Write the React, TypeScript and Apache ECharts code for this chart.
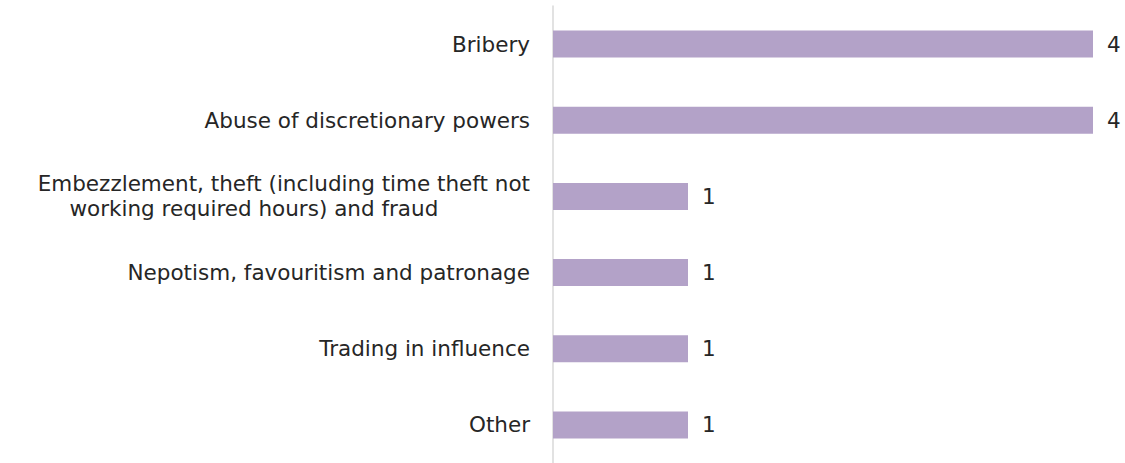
import React, { useEffect, useRef } from "react";
import * as echarts from "echarts";

const categories = [
  "Bribery",
  "Abuse of discretionary powers",
  "Embezzlement, theft (including time theft not\nworking required hours) and fraud",
  "Nepotism, favouritism and patronage",
  "Trading in influence",
  "Other",
];
const values = [4, 4, 1, 1, 1, 1];

const FONT = "DejaVu Sans";
const TEXT_COLOR = "#262626";
const FS = 21.5;

export default function App() {
  const ref = useRef<HTMLDivElement>(null);
  useEffect(() => {
    document.body.style.margin = "0";
    const chart = echarts.init(ref.current!, null, { renderer: "svg" });
    chart.setOption({
      animation: false,
      grid: { left: 553, right: 32, top: 6, height: 460, containLabel: false },
      xAxis: {
        type: "value",
        min: 0,
        max: 4,
        show: false,
      },
      yAxis: {
        type: "category",
        data: categories,
        inverse: true,
        axisLine: { show: true, lineStyle: { color: "#D9D9D9", width: 1.5 } },
        axisTick: { show: false },
        splitLine: { show: false },
        axisLabel: {
          margin: 23,
          fontFamily: FONT,
          fontSize: FS,
          color: TEXT_COLOR,
          lineHeight: 25,
          formatter: (v: string) => {
            const parts = v.split("\n");
            if (parts.length === 1) return v;
            return `{a|${parts[0]}}\n{b|${parts[1]}}`;
          },
          rich: {
            a: { fontFamily: FONT, fontSize: FS, color: TEXT_COLOR, lineHeight: 25 },
            b: { fontFamily: FONT, fontSize: FS, color: TEXT_COLOR, lineHeight: 25, align: "center", padding: [0, 60, 0, 0] },
          },
        },
      },
      series: [
        {
          type: "bar",
          data: values,
          barWidth: 27,
          itemStyle: { color: "#B3A2C8" },
          label: {
            show: true,
            position: "right",
            distance: 14,
            fontFamily: FONT,
            fontSize: FS,
            color: TEXT_COLOR,
          },
        },
      ],
    });
    return () => chart.dispose();
  }, []);
  return <div ref={ref} style={{ width: 1125, height: 463 }} />;
}
